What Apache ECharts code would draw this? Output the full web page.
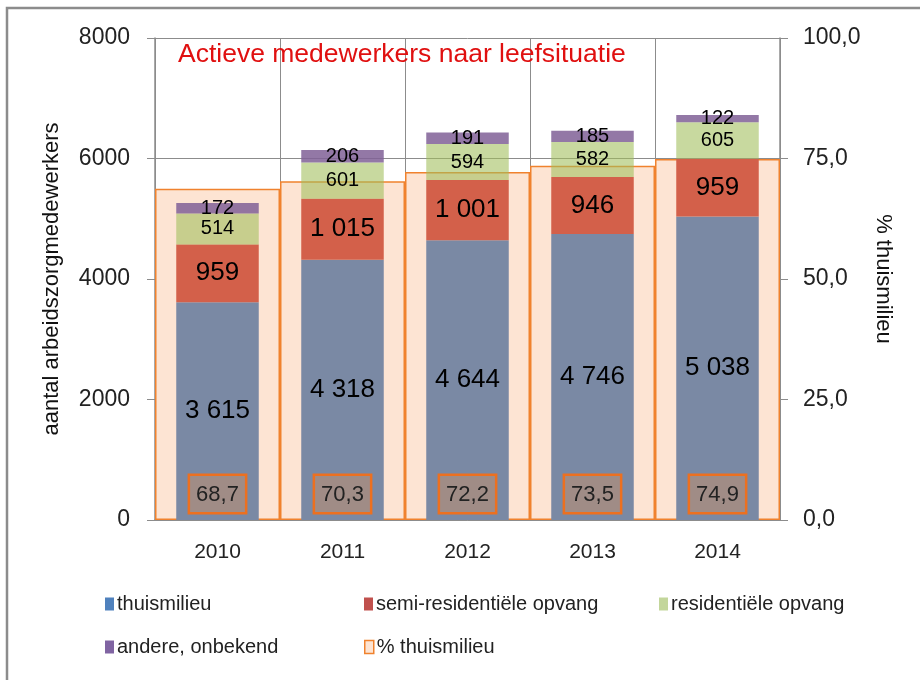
<!DOCTYPE html>
<html>
<head>
<meta charset="utf-8">
<script src="https://cdn.jsdelivr.net/npm/echarts@6/dist/echarts.min.js"></script>
<style>html,body{margin:0;padding:0;background:#fff;}#c{width:920px;height:680px;}</style>
</head>
<body>
<div id="c"></div>
<script>
const categories = ['2010', '2011', '2012', '2013', '2014'];
const thuismilieu = [3615, 4318, 4644, 4746, 5038];
const semiResidentieel = [959, 1015, 1001, 946, 959];
const residentieel = [514, 601, 594, 582, 605];
const andere = [172, 206, 191, 185, 122];
const pctThuismilieu = [68.7, 70.3, 72.2, 73.5, 74.9];
const leftTicks = [0, 2000, 4000, 6000, 8000];
const rightTicks = [0, 25, 50, 75, 100];

const FONT = 'Liberation Sans';
const fmtNum = v => String(v).replace(/\B(?=(\d{3})+(?!\d))/g, ' ');
const fmtPct = v => v.toFixed(1).replace('.', ',');

const chart = echarts.init(document.getElementById('c'), null, {renderer: 'canvas'});

function stackSeries(name, data, color, fontSize) {
  return {
    name: name,
    type: 'bar',
    stack: 'total',
    xAxisIndex: 0,
    yAxisIndex: 0,
    barWidth: '66%',
    data: data,
    itemStyle: {color: color},
    label: {
      show: true,
      position: 'inside',
      formatter: p => fmtNum(p.value),
      color: '#000',
      fontFamily: FONT,
      fontSize: fontSize
    }
  };
}

const legendCommon = {
  icon: 'rect',
  itemWidth: 9, itemHeight: 13, itemGap: 4,
  textStyle: {fontSize: 20, color: '#222', fontFamily: FONT, padding: [0, 0, 0, -2]}
};

const option = {
  animation: false,
  backgroundColor: '#fff',
  textStyle: {fontFamily: FONT},
  graphic: [{
    type: 'rect',
    shape: {x: 7, y: 8, width: 1000, height: 1000},
    style: {fill: 'none', stroke: '#8c8c8c', lineWidth: 2.5},
    silent: true
  }],
  title: {
    text: 'Actieve medewerkers naar leefsituatie',
    left: 173, top: 36,
    textStyle: {color: '#e01010', fontSize: 26.5, fontWeight: 'normal', fontFamily: FONT}
  },
  legend: [
    {data: [{name: 'thuismilieu', itemStyle: {color: '#4f81bd'}}], left: 100, top: 589},
    {data: [{name: 'semi-residentiële opvang', itemStyle: {color: '#c0504d'}}], left: 359, top: 589},
    {data: [{name: 'residentiële opvang', itemStyle: {color: '#c3d69b'}}], left: 654, top: 589},
    {data: [{name: 'andere, onbekend', itemStyle: {color: '#8064a2'}}], left: 100, top: 632},
    {data: [{name: '% thuismilieu', itemStyle: {color: '#fde4d3', borderColor: '#f0822e', borderWidth: 1.5}}], left: 359, top: 632}
  ].map(l => Object.assign(l, legendCommon)),
  grid: {left: 155, right: 140, top: 38, bottom: 160},
  xAxis: [{
    type: 'category',
    data: categories,
    axisLine: {show: true, lineStyle: {color: '#8c8c8c', width: 1.5}},
    axisTick: {show: false},
    splitLine: {show: true, lineStyle: {color: '#8c8c8c', width: 1}},
    axisLabel: {fontSize: 21, color: '#222', margin: 22, fontFamily: FONT}
  }, {
    type: 'category',
    data: categories,
    show: false
  }],
  yAxis: [{
    type: 'value',
    min: 0, max: 8000, interval: 2000,
    name: 'aantal arbeidszorgmedewerkers',
    nameLocation: 'middle',
    nameGap: 92,
    nameTextStyle: {fontSize: 22, color: '#111', fontFamily: FONT},
    axisLine: {show: true, lineStyle: {color: '#8c8c8c', width: 1.5}},
    axisTick: {show: true, inside: false, length: 8, lineStyle: {color: '#8c8c8c'}},
    splitLine: {show: true, lineStyle: {color: '#8c8c8c', width: 1}},
    axisLabel: {fontSize: 23, color: '#222', margin: 25, fontFamily: FONT,
      formatter: v => leftTicks.includes(v) ? String(v) : ''}
  }, {
    type: 'value',
    min: 0, max: 100, interval: 25,
    name: '% thuismilieu',
    nameLocation: 'middle',
    nameGap: 92,
    nameRotate: -90,
    nameTextStyle: {fontSize: 22, color: '#111', fontFamily: FONT},
    axisLine: {show: true, lineStyle: {color: '#8c8c8c', width: 1.5}},
    axisTick: {show: true, inside: false, length: 8, lineStyle: {color: '#8c8c8c'}},
    splitLine: {show: false},
    axisLabel: {fontSize: 23, color: '#222', margin: 23, fontFamily: FONT,
      formatter: v => rightTicks.includes(v) ? fmtPct(v) : ''}
  }],
  series: [
    {
      name: '% thuismilieu',
      type: 'bar',
      xAxisIndex: 1,
      yAxisIndex: 1,
      barWidth: '100%',
      data: pctThuismilieu,
      itemStyle: {color: '#fde4d3', borderColor: '#f0822e', borderWidth: 1.5},
      label: {
        show: true,
        position: 'insideBottom',
        distance: 8,
        formatter: p => fmtPct(p.value),
        color: '#222',
        fontSize: 22,
        fontFamily: FONT,
        backgroundColor: '#a08c86',
        borderColor: '#ec7020',
        borderWidth: 2.5,
        padding: [8, 6, 6, 6]
      }
    },
    stackSeries('thuismilieu', thuismilieu, '#7a89a4', 26),
    stackSeries('semi-residentiële opvang', semiResidentieel, '#d3604a', 26),
    stackSeries('residentiële opvang', residentieel, 'rgba(160,190,90,0.58)', 20),
    stackSeries('andere, onbekend', andere, 'rgba(128,96,150,0.85)', 20)
  ]
};
chart.setOption(option);
</script>
</body>
</html>
